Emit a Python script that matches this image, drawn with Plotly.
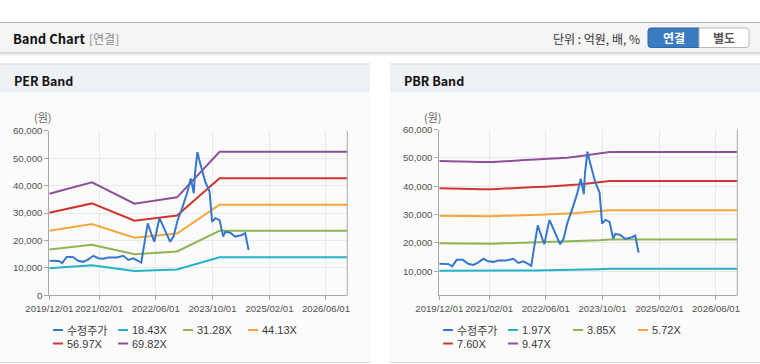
import plotly.graph_objects as go

W, H = 760, 364

# ---------------- data ----------------
price_dates = [
    "2019-12-01", "2020-01-15", "2020-02-20", "2020-03-20", "2020-04-28", "2020-06-20",
    "2020-08-05", "2020-09-18", "2020-11-01", "2020-12-13", "2021-01-25", "2021-03-07",
    "2021-04-20", "2021-07-01", "2021-08-27", "2021-10-10", "2021-11-21", "2022-01-04",
    "2022-01-28", "2022-03-01", "2022-03-25", "2022-04-28", "2022-05-20", "2022-07-03",
    "2022-08-07", "2022-10-03", "2022-11-01", "2022-12-05", "2023-01-13", "2023-02-25",
    "2023-03-29", "2023-04-24", "2023-05-04", "2023-05-25", "2023-06-10", "2023-07-01",
    "2023-07-31", "2023-09-06", "2023-09-28", "2023-10-26", "2023-12-01", "2024-01-01",
    "2024-01-19", "2024-03-01", "2024-04-13", "2024-06-10", "2024-07-08", "2024-08-06",
]
price_values = [
    12600, 12600, 12500, 11700, 14000, 14000,
    12600, 12200, 13100, 14400, 13500, 13300,
    13800, 13800, 14400, 12900, 13500, 12500,
    11900, 20200, 26200, 22000, 19500, 28100,
    25000, 19500, 21400, 27200, 31700, 37200,
    42600, 37200, 44500, 52200, 49300, 46300,
    41400, 37800, 26800, 28100, 27400, 21400,
    23200, 22800, 21400, 22000, 22600, 16500,
]

per_dates = ["2019-12-01", "2020-12-01", "2021-12-01", "2022-06-01", "2022-12-01",
             "2023-12-01", "2026-12-01"]
per_names = ["18.43X", "31.28X", "44.13X", "56.97X", "69.82X"]
per_1843 = [9900, 10950, 8850, 9100, 9400, 13900, 13900]
per_3128 = [16700, 18400, 15000, 15400, 16000, 23500, 23500]
per_4413 = [23500, 26000, 21000, 21700, 22500, 33000, 33000]
per_5697 = [30100, 33500, 27200, 28100, 29100, 42700, 42700]
per_6982 = [37000, 41200, 33400, 34500, 35700, 52300, 52300]

pbr_dates = ["2019-12-01", "2020-03-01", "2020-06-01", "2020-09-01", "2020-12-01",
             "2021-03-01", "2021-06-01", "2021-09-01", "2021-12-01", "2022-03-01",
             "2022-06-01", "2022-09-01", "2022-12-01", "2023-03-01", "2023-06-01",
             "2023-09-01", "2023-12-01", "2026-12-01"]
pbr_names = ["1.97X", "3.85X", "5.72X", "7.60X", "9.47X"]
pbr_197 = [10170, 10150, 10090, 10090, 10090, 10090, 10150, 10210, 10230, 10270,
           10310, 10360, 10400, 10500, 10610, 10710, 10840, 10840]
pbr_385 = [19880, 19840, 19720, 19720, 19720, 19720, 19840, 19960, 20000, 20090,
           20170, 20250, 20330, 20530, 20740, 20940, 21180, 21180]
pbr_572 = [29600, 29540, 29350, 29350, 29350, 29350, 29540, 29720, 29780, 29900,
           30020, 30150, 30270, 30570, 30870, 31180, 31550, 31550]
pbr_760 = [39300, 39200, 38950, 38950, 38950, 38950, 39200, 39450, 39520, 39680,
           39840, 40000, 40160, 40560, 40960, 41370, 41850, 41850]
pbr_947 = [48900, 48800, 48500, 48500, 48500, 48500, 48800, 49100, 49200, 49400,
           49600, 49800, 50000, 50500, 51000, 51500, 52100, 52100]

price_name = "수정주가"
x_tick_vals = ["2019-12-01", "2021-02-01", "2022-06-01", "2023-10-01", "2025-02-01", "2026-06-01"]
x_tick_text = ["2019/12/01", "2021/02/01", "2022/06/01", "2023/10/01", "2025/02/01", "2026/06/01"]
x_range = ["2019-12-01", "2026-12-01"]
per_y_ticks = [0, 10000, 20000, 30000, 40000, 50000, 60000]
pbr_y_ticks = [10000, 20000, 30000, 40000, 50000, 60000]

# ---------------- style ----------------
C_PRICE = "#3677cc"
BAND_COLORS = ["#22b3c6", "#8db553", "#f3a73a", "#d2352d", "#8f4f9b"]
KFONT = "Noto Sans CJK KR"
TFONT = "Liberation Sans"
LFONT = "Liberation Sans"


def px(x):
    return x / W


def py(y):
    return 1 - y / H


fig = go.Figure()

for name, vals, col in zip(per_names, [per_1843, per_3128, per_4413, per_5697, per_6982], BAND_COLORS):
    fig.add_trace(go.Scatter(x=per_dates, y=vals, name=name, mode="lines",
                             line=dict(color=col, width=2), xaxis="x", yaxis="y"))
fig.add_trace(go.Scatter(x=price_dates, y=price_values, name=price_name, mode="lines",
                         line=dict(color=C_PRICE, width=2), xaxis="x", yaxis="y"))

for name, vals, col in zip(pbr_names, [pbr_197, pbr_385, pbr_572, pbr_760, pbr_947], BAND_COLORS):
    fig.add_trace(go.Scatter(x=pbr_dates, y=vals, name=name, mode="lines",
                             line=dict(color=col, width=2), xaxis="x2", yaxis="y2"))
fig.add_trace(go.Scatter(x=price_dates, y=price_values, name=price_name, mode="lines",
                         line=dict(color=C_PRICE, width=2), xaxis="x2", yaxis="y2"))

axis_common = dict(showline=True, linecolor="#a8a8a8", linewidth=1, mirror=False,
                   showgrid=True, gridcolor="#e8e8e8", gridwidth=1,
                   ticks="outside", ticklen=4, tickcolor="#a8a8a8",
                   tickfont=dict(family=TFONT, size=9.6, color="#505050"), zeroline=False,
                   fixedrange=True, automargin=False, tickangle=0)

L_X0, L_X1 = 49.3, 347.3
R_X0, R_X1 = 439.3, 737.3
L_Y0, L_Y1 = 130.7, 295.3
R_Y0, R_Y1 = 129.5, 295.3

fig.update_layout(
    width=W, height=H, margin=dict(l=0, r=0, t=0, b=0, pad=0), autosize=False,
    paper_bgcolor="white", plot_bgcolor="rgba(0,0,0,0)",
    showlegend=False, hovermode=False,
    xaxis=dict(domain=[px(L_X0), px(L_X1)], type="date", range=x_range,
               tickvals=x_tick_vals, ticktext=x_tick_text, anchor="y", **axis_common),
    yaxis=dict(domain=[py(L_Y1), py(L_Y0)], range=[0, 60000], tickvals=per_y_ticks,
               tickformat=",", anchor="x", **axis_common),
    xaxis2=dict(domain=[px(R_X0), px(R_X1)], type="date", range=x_range,
                tickvals=x_tick_vals, ticktext=x_tick_text, anchor="y2", **axis_common),
    yaxis2=dict(domain=[py(R_Y1), py(R_Y0)], range=[1500, 60000], tickvals=pbr_y_ticks,
                tickformat=",", anchor="x2", **axis_common),
)

shapes = []
ann = []


def rect(x0, y0, x1, y1, fill, line=None, layer="below"):
    shapes.append(dict(type="rect", xref="paper", yref="paper", x0=px(x0), x1=px(x1),
                       y0=py(y1), y1=py(y0), fillcolor=fill,
                       line=dict(width=1 if line else 0, color=line or fill), layer=layer))


def hline(x0, x1, y, color, width=1, layer="below"):
    shapes.append(dict(type="line", xref="paper", yref="paper", x0=px(x0), x1=px(x1),
                       y0=py(y), y1=py(y), line=dict(color=color, width=width), layer=layer))


def vline(x, y0, y1, color, width=1, layer="below"):
    shapes.append(dict(type="line", xref="paper", yref="paper", x0=px(x), x1=px(x),
                       y0=py(y0), y1=py(y1), line=dict(color=color, width=width), layer=layer))


def text(x, y, s, size=11, color="#333", bold=False, anchor="left", family=KFONT):
    ann.append(dict(xref="paper", yref="paper", x=px(x), y=py(y), text=f"<b>{s}</b>" if bold else s,
                    showarrow=False, xanchor=anchor, yanchor="middle",
                    font=dict(family=family, size=size, color=color)))


# header bar
rect(0, 22.5, W, 52.5, "#f4f4f4")
hline(0, W, 22.5, "#b4b4b4")
hline(0, W, 53, "#b8b8b8")
hline(0, W, 54, "#dcdcdc")
hline(0, W, 55, "#eeeeee")
text(11, 38.5, "Band Chart", size=13, color="#111", bold=True)
text(87, 38.5, "[연결]", size=12, color="#8a8a8a")
text(642, 38.5, "단위 : 억원, 배, %", size=12, color="#333", anchor="right")
# buttons
shapes.append(dict(type="path", xref="paper", yref="paper",
                   path=f"M {px(699)},{py(28)} L {px(651)},{py(28)} Q {px(648)},{py(28)} {px(648)},{py(31)} "
                        f"L {px(648)},{py(44.5)} Q {px(648)},{py(47.5)} {px(651)},{py(47.5)} L {px(699)},{py(47.5)} Z",
                   fillcolor="#3a7bc2", line=dict(color="#2d67a8", width=1), layer="below"))
shapes.append(dict(type="path", xref="paper", yref="paper",
                   path=f"M {px(699)},{py(28)} L {px(746)},{py(28)} Q {px(749)},{py(28)} {px(749)},{py(31)} "
                        f"L {px(749)},{py(44.5)} Q {px(749)},{py(47.5)} {px(746)},{py(47.5)} L {px(699)},{py(47.5)} Z",
                   fillcolor="#ffffff", line=dict(color="#b8b8b8", width=1), layer="below"))
text(673.5, 38, "연결", size=12, color="white", bold=True, anchor="center")
text(724, 38, "별도", size=12, color="#555", bold=True, anchor="center")

# panels
for (x0, x1, title) in [(0, 370, "PER Band"), (390, 760, "PBR Band")]:
    rect(x0, 64, x1, 362, "#fbfbfb")
    rect(x0, 64, x1, 92.5, "#eef2f7")
    hline(x0, x1, 64, "#d4d4d4")
    hline(x0, x1, 362.5, "#d9d9d9")
    text(x0 + 11.5, 80, title, size=12.5, color="#111", bold=True)

# right plot borders (frame)
vline(L_X1, L_Y0, L_Y1, "#a8a8a8", layer="above")
vline(R_X1, R_Y0, R_Y1, "#a8a8a8", layer="above")

text(43, 117.5, "(원)", size=11, color="#666", anchor="center")
text(433, 117.5, "(원)", size=11, color="#666", anchor="center")


# legends (manual: short line sample + label)
def legend(base_x, names, colors):
    for i, (nm, col) in enumerate(zip(names, colors)):
        c, r = i % 4, i // 4
        x0 = base_x + c * 65
        y = 330 + r * 13.5
        hline(x0, x0 + 10, y, col, width=2, layer="above")
        fam = KFONT if any(ord(ch) > 0x3000 for ch in nm) else LFONT
        text(x0 + 12, y, nm, size=11, color="#3a3a3a", family=fam)


legend(53, [price_name] + per_names, [C_PRICE] + BAND_COLORS)
legend(443, [price_name] + pbr_names, [C_PRICE] + BAND_COLORS)

fig.update_layout(shapes=shapes, annotations=ann)

fig.write_html("out.html", config={"displayModeBar": False},
               post_script="document.body.style.margin='0px';")
